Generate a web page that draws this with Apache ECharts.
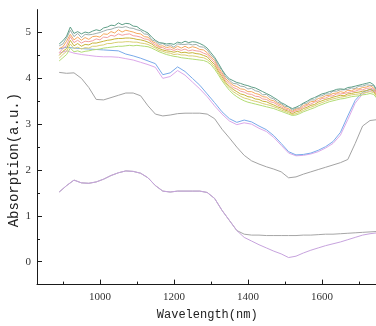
<!DOCTYPE html>
<html>
<head>
<meta charset="utf-8">
<script src="https://cdn.jsdelivr.net/npm/echarts@6/dist/echarts.min.js"></script>
<style>
  html, body { margin: 0; padding: 0; background: #fff; }
  #chart { width: 376px; height: 326px; }
</style>
</head>
<body>
<div id="chart"></div>
<script>
// wavelength grids (nm)
const waveFine = [890,900,910,920,930,940,950,960,970,980,990,1000,1010,1020,1030,1040,1050,1060,1070,1080,1090,1100,1110,1120,1130,1140,1150,1160,1170,1180,1190,1200,1210,1220,1230,1240,1250,1260,1270,1280,1290,1300,1310,1320,1330,1340,1350,1360,1370,1380,1390,1400,1410,1420,1430,1440,1450,1460,1470,1480,1490,1500,1510,1520,1530,1540,1550,1560,1570,1580,1590,1600,1610,1620,1630,1640,1650,1660,1670,1680,1690,1700,1710,1720,1730,1740,1750]
const waveCoarse = [890,910,930,950,970,990,1010,1030,1050,1070,1090,1110,1130,1150,1170,1190,1210,1230,1250,1270,1290,1310,1330,1350,1370,1390,1410,1430,1450,1470,1490,1510,1530,1550,1570,1590,1610,1630,1650,1670,1690,1710,1730,1750]

// upper bundle of noisy spectra (on waveFine)
const tealSpec = [4.75,4.82,4.92,5.12,4.98,5.02,4.97,5.01,4.99,5.03,5.06,5.04,5.10,5.12,5.16,5.15,5.21,5.17,5.20,5.19,5.14,5.13,5.07,5.03,4.99,4.90,4.83,4.78,4.77,4.75,4.76,4.74,4.79,4.77,4.81,4.78,4.80,4.79,4.76,4.72,4.66,4.56,4.46,4.33,4.19,4.07,3.99,3.95,3.91,3.89,3.86,3.84,3.81,3.79,3.75,3.71,3.67,3.63,3.58,3.53,3.47,3.43,3.38,3.34,3.37,3.41,3.46,3.50,3.55,3.58,3.62,3.66,3.68,3.71,3.73,3.76,3.77,3.76,3.80,3.81,3.83,3.85,3.87,3.89,3.91,3.86,3.72]
const graySpec = [4.71,4.75,4.88,5.05,4.91,4.98,4.89,4.96,4.95,4.96,4.98,5.00,5.03,5.06,5.07,5.10,5.12,5.11,5.13,5.10,5.09,5.06,5.04,4.97,4.96,4.84,4.81,4.74,4.76,4.71,4.73,4.68,4.75,4.74,4.74,4.75,4.73,4.74,4.69,4.68,4.62,4.51,4.43,4.28,4.17,4.03,3.96,3.89,3.88,3.83,3.82,3.77,3.78,3.73,3.71,3.64,3.65,3.58,3.55,3.48,3.45,3.39,3.38,3.31,3.35,3.36,3.45,3.46,3.53,3.53,3.61,3.62,3.66,3.66,3.72,3.72,3.75,3.75,3.76,3.79,3.78,3.83,3.83,3.86,3.85,3.84,3.69]
const orangeSpec = [4.65,4.69,4.81,4.96,4.84,4.90,4.83,4.89,4.85,4.91,4.92,4.90,4.97,4.96,5.02,4.99,5.06,5.01,5.05,5.03,5.01,4.98,4.97,4.91,4.90,4.81,4.77,4.70,4.71,4.67,4.69,4.65,4.70,4.66,4.70,4.66,4.69,4.67,4.63,4.62,4.56,4.47,4.39,4.24,4.12,3.99,3.92,3.85,3.82,3.77,3.76,3.71,3.71,3.67,3.65,3.60,3.59,3.53,3.51,3.45,3.42,3.36,3.34,3.28,3.33,3.34,3.41,3.43,3.49,3.50,3.56,3.58,3.62,3.63,3.67,3.68,3.71,3.69,3.74,3.73,3.77,3.77,3.80,3.81,3.84,3.79,3.67]
const salmonSpec = [4.56,4.65,4.72,4.91,4.78,4.83,4.77,4.81,4.80,4.82,4.86,4.84,4.90,4.89,4.94,4.92,4.97,4.94,4.96,4.97,4.93,4.92,4.90,4.86,4.85,4.78,4.73,4.68,4.67,4.63,4.64,4.61,4.64,4.61,4.64,4.60,4.62,4.60,4.59,4.55,4.52,4.43,4.34,4.20,4.08,3.95,3.88,3.80,3.77,3.72,3.70,3.66,3.65,3.61,3.60,3.55,3.54,3.49,3.47,3.42,3.38,3.33,3.31,3.26,3.30,3.32,3.37,3.41,3.44,3.48,3.51,3.56,3.57,3.61,3.62,3.66,3.66,3.67,3.69,3.71,3.72,3.75,3.75,3.78,3.79,3.76,3.63]
const oliveSpec = [4.50,4.59,4.65,4.83,4.71,4.76,4.70,4.74,4.73,4.77,4.77,4.79,4.81,4.83,4.84,4.86,4.87,4.87,4.88,4.88,4.87,4.85,4.84,4.82,4.79,4.75,4.69,4.65,4.62,4.60,4.59,4.57,4.59,4.56,4.57,4.55,4.56,4.54,4.53,4.50,4.47,4.38,4.30,4.16,4.04,3.91,3.83,3.76,3.71,3.66,3.64,3.60,3.59,3.55,3.54,3.50,3.49,3.45,3.42,3.38,3.35,3.31,3.28,3.23,3.27,3.29,3.34,3.37,3.41,3.43,3.48,3.51,3.54,3.56,3.59,3.61,3.63,3.62,3.66,3.67,3.69,3.70,3.72,3.73,3.76,3.72,3.60]
const khakiSpec = [4.44,4.52,4.59,4.75,4.65,4.68,4.64,4.67,4.66,4.70,4.70,4.72,4.73,4.76,4.76,4.78,4.79,4.79,4.80,4.80,4.79,4.79,4.77,4.76,4.74,4.70,4.66,4.61,4.59,4.56,4.55,4.52,4.53,4.51,4.51,4.49,4.49,4.48,4.46,4.45,4.41,4.34,4.25,4.12,3.99,3.88,3.79,3.71,3.66,3.61,3.57,3.55,3.52,3.50,3.48,3.45,3.43,3.41,3.38,3.35,3.31,3.28,3.25,3.21,3.23,3.26,3.30,3.34,3.37,3.40,3.44,3.47,3.50,3.53,3.55,3.57,3.59,3.60,3.62,3.64,3.65,3.66,3.68,3.69,3.71,3.69,3.58]
const greenSpec = [4.38,4.45,4.52,4.66,4.58,4.60,4.57,4.59,4.60,4.62,4.63,4.64,4.66,4.67,4.68,4.69,4.70,4.70,4.71,4.72,4.71,4.72,4.71,4.70,4.69,4.66,4.62,4.58,4.55,4.52,4.50,4.48,4.47,4.45,4.44,4.43,4.42,4.41,4.40,4.39,4.36,4.30,4.20,4.08,3.95,3.84,3.74,3.66,3.60,3.55,3.51,3.48,3.46,3.44,3.42,3.40,3.38,3.36,3.34,3.31,3.28,3.25,3.22,3.19,3.20,3.23,3.27,3.30,3.33,3.36,3.40,3.43,3.46,3.49,3.51,3.53,3.55,3.56,3.58,3.60,3.61,3.62,3.64,3.65,3.67,3.65,3.55]

// smoother spectra (on waveCoarse)
const blueSpec = [4.64,4.68,4.66,4.65,4.64,4.63,4.62,4.61,4.60,4.53,4.49,4.44,4.38,4.32,4.08,4.12,4.25,4.15,4.00,3.85,3.66,3.47,3.27,3.12,3.04,3.09,3.05,2.96,2.88,2.75,2.58,2.40,2.33,2.34,2.37,2.43,2.51,2.62,2.82,3.18,3.52,3.70,3.76,3.72]
const lilacSpec = [4.55,4.60,4.55,4.52,4.50,4.48,4.47,4.47,4.46,4.43,4.40,4.35,4.30,4.24,4.00,4.04,4.17,4.07,3.92,3.77,3.60,3.40,3.22,3.07,2.99,3.03,3.00,2.91,2.84,2.71,2.54,2.37,2.31,2.32,2.35,2.40,2.48,2.58,2.76,3.10,3.46,3.66,3.73,3.70]
const midGraySpec = [4.13,4.11,4.12,4.00,3.80,3.54,3.53,3.58,3.63,3.68,3.68,3.62,3.40,3.22,3.18,3.20,3.23,3.24,3.24,3.24,3.22,3.12,2.89,2.70,2.50,2.32,2.20,2.13,2.07,2.02,1.96,1.83,1.85,1.91,1.96,2.01,2.06,2.11,2.16,2.23,2.58,2.96,3.08,3.10]
const lowGraySpec = [1.52,1.66,1.78,1.72,1.71,1.74,1.80,1.88,1.94,1.98,1.97,1.93,1.83,1.66,1.54,1.52,1.54,1.54,1.54,1.54,1.51,1.38,1.12,0.90,0.68,0.60,0.58,0.58,0.57,0.57,0.57,0.57,0.57,0.58,0.58,0.59,0.60,0.60,0.61,0.62,0.63,0.64,0.65,0.66]
const lowLilacSpec = [1.52,1.66,1.78,1.72,1.71,1.74,1.80,1.88,1.94,1.98,1.97,1.93,1.83,1.66,1.54,1.52,1.54,1.54,1.54,1.54,1.51,1.38,1.12,0.90,0.68,0.53,0.45,0.37,0.30,0.23,0.17,0.09,0.12,0.19,0.25,0.30,0.35,0.39,0.43,0.48,0.53,0.58,0.61,0.63]

// axis ticks
const xMajorTicks = [1000, 1200, 1400, 1600]
const xMinorTicks = [900, 1100, 1300, 1500, 1700]
const yMajorTicks = [0, 1, 2, 3, 4, 5]
const yMinorTicks = [0.5, 1.5, 2.5, 3.5, 4.5]

const seriesDefs = [
  { x: waveCoarse, y: lowGraySpec, color: '#a6a6a6' },
  { x: waveCoarse, y: lowLilacSpec, color: '#c7a3de' },
  { x: waveCoarse, y: midGraySpec, color: '#a3a3a3' },
  { x: waveCoarse, y: lilacSpec, color: '#dca8ea' },
  { x: waveCoarse, y: blueSpec, color: '#79aaea' },
  { x: waveFine, y: greenSpec, color: '#b3dc74' },
  { x: waveFine, y: khakiSpec, color: '#d9cf72' },
  { x: waveFine, y: oliveSpec, color: '#c8b43a' },
  { x: waveFine, y: salmonSpec, color: '#f3a0a0' },
  { x: waveFine, y: orangeSpec, color: '#f5a85e' },
  { x: waveFine, y: graySpec, color: '#9fb0ad' },
  { x: waveFine, y: tealSpec, color: '#5f9f88' },
]

const chart = echarts.init(document.getElementById('chart'), null, { renderer: 'canvas' })

const axisLineStyle = { color: '#1a1a1a', width: 1 }
const labelFont = { color: '#333', fontSize: 11, fontFamily: 'Liberation Serif' }

chart.setOption({
  animation: false,
  backgroundColor: '#fff',
  grid: { left: 37, top: 9.6, width: 340.4, height: 275, outerBoundsMode: 'none', containLabel: false },
  xAxis: [
    {
      type: 'value', min: 830, max: 1750,
      axisLine: { onZero: false, lineStyle: axisLineStyle },
      axisTick: { inside: true, length: 5, lineStyle: axisLineStyle, customValues: xMajorTicks },
      axisLabel: { ...labelFont, margin: 7, customValues: xMajorTicks, formatter: v => String(v) },
      splitLine: { show: false },
      name: 'Wavelength(nm)',
      nameLocation: 'middle',
      nameGap: 24,
      nameMoveOverlap: false,
      nameTextStyle: { color: '#222', fontSize: 12, fontFamily: 'Liberation Mono' },
    },
    {
      type: 'value', min: 830, max: 1750, position: 'bottom', offset: 0,
      axisLine: { show: false, onZero: false },
      axisTick: { inside: true, length: 3, lineStyle: axisLineStyle, customValues: xMinorTicks },
      axisLabel: { show: false },
      splitLine: { show: false },
    },
  ],
  yAxis: [
    {
      type: 'value', min: -0.5, max: 5.5,
      axisLine: { show: true, onZero: false, lineStyle: axisLineStyle },
      axisTick: { show: true, inside: true, length: 5, lineStyle: axisLineStyle, customValues: yMajorTicks },
      axisLabel: { ...labelFont, margin: 6, customValues: yMajorTicks },
      splitLine: { show: false },
      name: 'Absorption(a.u.)',
      nameLocation: 'middle',
      nameGap: 16,
      nameMoveOverlap: false,
      nameTextStyle: { color: '#222', fontSize: 14, fontFamily: 'Liberation Mono', padding: [0, 26, 0, 0] },
    },
    {
      type: 'value', min: -0.5, max: 5.5, position: 'left', offset: 0,
      axisLine: { show: false, onZero: false },
      axisTick: { show: true, inside: true, length: 3, lineStyle: axisLineStyle, customValues: yMinorTicks },
      axisLabel: { show: false },
      splitLine: { show: false },
    },
  ],
  series: seriesDefs.map(d => ({
    type: 'line',
    data: d.x.map((w, i) => [w, d.y[i]]),
    symbol: 'none',
    silent: true,
    lineStyle: { color: d.color, width: 1 },
  })),
})
</script>
</body>
</html>
